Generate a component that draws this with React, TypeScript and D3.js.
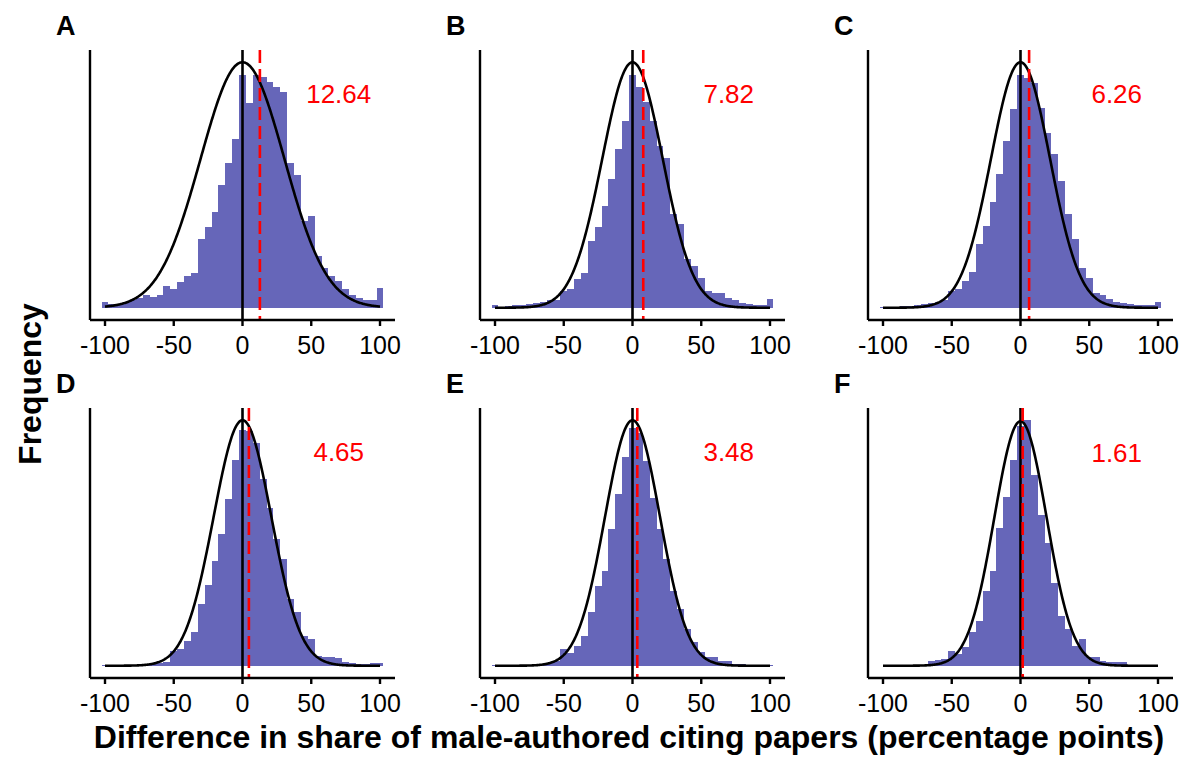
import React from 'react';
import * as d3 from 'd3';

// panel labels, observed mean differences and widths of the null curves
const panelLabels = ['A', 'B', 'C', 'D', 'E', 'F'];
const meanDiffs = [12.64, 7.82, 6.26, 4.65, 3.48, 1.61];
const nullSds = [30.5, 22, 21.5, 21, 20, 19];
const xTicks = [-100, -50, 0, 50, 100];

// bin centres -100, -95, ..., 100 (binwidth 5)
const binCenters = d3.range(-100, 101, 5);

// bar heights, relative to the peak of the null curve (= 100)
const histA = [2.5, 1.5, 1.5, 2, 3, 4, 5, 4.5, 5, 9, 7.5, 10.5, 13, 14, 28, 33, 39, 50, 59, 68.6,
  95,
  83.5, 95, 94, 92, 90, 88, 59, 54, 35.5, 37.3, 21, 16, 13, 10.8, 7.8, 5.1, 3.8, 3.1, 3, 8.2];
const histB = [1, 0.5, 0.8, 1, 1, 1.5, 2, 2.5, 3, 3.2, 7, 7.5, 11.6, 14, 27, 33, 41.6, 52.4, 64.6, 76,
  95,
  90, 84, 76, 66, 61, 38, 34, 20, 17, 12, 7, 6, 5.8, 4, 3, 2, 1.5, 1, 1, 3.4];
const histC = [0.5, 0.5, 0.5, 0.6, 0.8, 1, 1.5, 2, 2.4, 3, 6.8, 7.5, 11, 14.6, 26, 33.5, 43, 54.5, 68, 81,
  95,
  93.6, 91.6, 81.5, 71, 62.6, 51.8, 38, 28, 16, 12, 6, 5, 3.5, 2.5, 1.8, 1.5, 1.2, 1, 1, 2.4];
const histD = [0.1, 0.1, 0.2, 0.2, 0.3, 0.4, 0.6, 1, 1.2, 1.4, 6, 6.8, 10, 13.6, 25, 33, 42.7, 53.6, 68, 84,
  96,
  95.6, 90.8, 75.9, 64.4, 51.6, 43.4, 27, 21.7, 12.2, 10.9, 4, 3.6, 3.4, 3, 1.4, 1, 0.7, 0.7, 1.2, 1.2];
const histE = [0.1, 0.1, 0.1, 0.1, 0.2, 0.3, 0.4, 0.5, 1, 2, 6.8, 5, 8, 12, 21.7, 32.6, 38.7, 55.6, 70, 85,
  97,
  95, 83.4, 68.5, 55.6, 43.4, 30.5, 23, 15, 9.5, 5.4, 3.4, 3.4, 2, 2, 0.7, 0.7, 0.5, 0.4, 0.3, 0.3];
const histF = [0, 0, 0, 0.1, 0.2, 0.3, 0.5, 2, 2.5, 2.7, 6, 4.7, 7.5, 13.6, 18.3, 30.5, 38.7, 56.3, 69, 84,
  98,
  100.4, 78, 61.7, 50.2, 34, 20.4, 15, 8, 10.9, 3.4, 3.4, 2, 1.4, 1.4, 1.4, 0.3, 0.2, 0, 0, 0];
const hists = [histA, histB, histC, histD, histE, histF];

const panelLeft = [90, 480, 868];
const panelTop = [50, 408];
const panelW = 305;
const panelH = 270;
const barFill = '#6666b9';
const font = '"Liberation Sans", Arial, Helvetica, sans-serif';

function Panel({ idx }: { idx: number }) {
  const x0 = panelLeft[idx % 3];
  const y0 = panelTop[Math.floor(idx / 3)];
  const counts = hists[idx];
  const sd = nullSds[idx];
  const mean = meanDiffs[idx];

  const x = d3.scaleLinear().domain([-100, 100]).range([x0 + 15, x0 + 290]);
  const curvePts = d3.range(-100, 100.25, 0.5).map(v => [v, 100 * Math.exp(-(v * v) / (2 * sd * sd))]);
  const yMax = Math.max(100, d3.max(counts) as number);
  const y = d3.scaleLinear().domain([-0.05 * yMax, 1.05 * yMax]).range([y0 + panelH, y0]);

  const line = d3.line<number[]>().x(d => x(d[0])).y(d => y(d[1]));
  const bottom = y0 + panelH;

  return (
    <g>
      <g shapeRendering="crispEdges">
        {counts.map((c, i) => c > 0 ? (
          <rect key={i}
            x={x(binCenters[i] - 2.5)}
            width={x(binCenters[i] + 2.5) - x(binCenters[i] - 2.5)}
            y={y(c)}
            height={y(0) - y(c)}
            fill={barFill} />
        ) : null)}
      </g>
      <path d={line(curvePts) || ''} fill="none" stroke="#000" strokeWidth={2.6} />
      <line x1={x(0)} x2={x(0)} y1={y0} y2={bottom} stroke="#000" strokeWidth={2.6} />
      <line x1={x(mean)} x2={x(mean)} y1={y0} y2={bottom} stroke="#ff0000" strokeWidth={2.6} strokeDasharray="13 6" />
      <text x={x(70)} y={y(83.5)} fill="#ff0000" fontSize={26} textAnchor="middle" fontFamily={font}>
        {mean.toFixed(2)}
      </text>
      {/* axes */}
      <line x1={x0} x2={x0} y1={y0} y2={bottom} stroke="#000" strokeWidth={2.4} />
      <line x1={x0} x2={x0 + panelW} y1={bottom} y2={bottom} stroke="#000" strokeWidth={2.4} />
      {xTicks.map(t => (
        <g key={t}>
          <line x1={x(t)} x2={x(t)} y1={bottom} y2={bottom + 6} stroke="#000" strokeWidth={2.4} />
          <text x={x(t)} y={bottom + 34} fontSize={25} textAnchor="middle" fontFamily={font} fill="#000">
            {t}
          </text>
        </g>
      ))}
      <text x={x0 - 34} y={y0 - 15} fontSize={27} fontWeight="bold" fontFamily={font} fill="#000">
        {panelLabels[idx]}
      </text>
    </g>
  );
}

export default function App() {
  return (
    <svg width={1200} height={757} style={{ position: 'absolute', left: 0, top: 0, background: '#fff' }}>
      <rect width={1200} height={757} fill="#fff" />
      {panelLabels.map((_, i) => <Panel key={i} idx={i} />)}
      <text x={629} y={748} fontSize={32} fontWeight="bold" textAnchor="middle" fontFamily={font}>
        Difference in share of male-authored citing papers (percentage points)
      </text>
      <text transform="translate(41,384) rotate(-90)" fontSize={32} fontWeight="bold" textAnchor="middle" fontFamily={font}>
        Frequency
      </text>
    </svg>
  );
}
